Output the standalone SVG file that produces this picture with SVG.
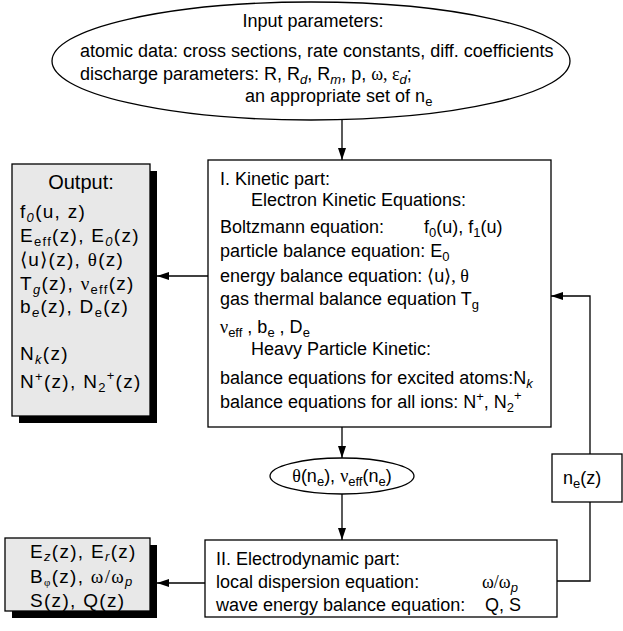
<svg xmlns="http://www.w3.org/2000/svg" width="623" height="631" viewBox="0 0 623 631">
<defs>
<marker id="ah" viewBox="0 0 12 8" refX="12" refY="4" markerWidth="12" markerHeight="8" markerUnits="userSpaceOnUse" orient="auto">
<path d="M0,0 L12,4 L0,8 Z" fill="#000"/>
</marker>
</defs>
<style>
text{font-family:"Liberation Sans",Arial,sans-serif;font-size:18px;fill:#000}
.o{font-size:19px;letter-spacing:1.3px}
.g{font-family:"Liberation Serif","Times New Roman",serif}
.s{font-size:13px}
.i{font-style:italic}
.box{fill:#fff;stroke:#000;stroke-width:1.3}
.out{fill:#e8e8e8;stroke:#000;stroke-width:1.3}
.sh{fill:#000}
.ln{fill:none;stroke:#000;stroke-width:1.3}
</style>
<rect width="623" height="631" fill="#fff"/>
<g id="input">
<ellipse class="box" cx="311" cy="61" rx="259" ry="59"/>
<text x="313" y="27" text-anchor="middle">Input parameters:</text>
<text x="80" y="57">atomic data: cross sections, rate constants, diff. coefficients</text>
<text x="80" y="80">discharge parameters: R, R<tspan class="s i" dy="4">d</tspan><tspan dy="-4">, R</tspan><tspan class="s i" dy="4">m</tspan><tspan dy="-4">, p, </tspan><tspan class="g">ω, ε</tspan><tspan class="s i" dy="4">d</tspan><tspan dy="-4">;</tspan></text>
<text x="245" y="102">an appropriate set of n<tspan class="s" dy="4">e</tspan></text>
</g>
<g id="kinetic">
<rect class="box" x="208" y="160" width="343" height="267"/>
<text x="220" y="185">I. Kinetic part:</text>
<text x="251" y="206">Electron Kinetic Equations:</text>
<text x="220" y="233">Boltzmann equation:</text>
<text x="424" y="233">f<tspan class="s" dy="4">0</tspan><tspan dy="-4">(u), f</tspan><tspan class="s" dy="4">1</tspan><tspan dy="-4">(u)</tspan></text>
<text x="220" y="257">particle balance equation: E<tspan class="s" dy="4">0</tspan></text>
<text x="220" y="282">energy balance equation: <tspan class="g">⟨</tspan>u<tspan class="g">⟩, θ</tspan></text>
<text x="220" y="305">gas thermal balance equation T<tspan class="s" dy="4">g</tspan></text>
<text x="220" y="333"><tspan class="g">ν</tspan><tspan class="s" dy="4">eff</tspan><tspan dy="-4"> , b</tspan><tspan class="s" dy="4">e</tspan><tspan dy="-4"> , D</tspan><tspan class="s" dy="4">e</tspan></text>
<text x="251" y="355">Heavy Particle Kinetic:</text>
<text x="220" y="384">balance equations for excited atoms:N<tspan class="s i" dy="4">k</tspan></text>
<text x="220" y="408">balance equations for all ions:  N<tspan class="s" dy="-7">+</tspan><tspan dy="7">, N</tspan><tspan class="s" dy="4">2</tspan><tspan class="s" dy="-12">+</tspan></text>
</g>
<g id="output1">
<rect class="sh" x="19" y="171" width="138" height="252"/>
<rect class="out" x="12" y="164" width="138" height="252"/>
<text x="81" y="189" text-anchor="middle" style="font-size:20px">Output:</text>
<text class="o" x="20" y="218">f<tspan class="s i" dy="4">0</tspan><tspan dy="-4">(u, z)</tspan></text>
<text class="o" x="20" y="242">E<tspan class="s" dy="4">eff</tspan><tspan dy="-4">(z), E</tspan><tspan class="s i" dy="4">0</tspan><tspan dy="-4">(z)</tspan></text>
<text class="o" x="20" y="266"><tspan class="g">⟨</tspan>u<tspan class="g">⟩</tspan>(z), <tspan class="g">θ</tspan>(z)</text>
<text class="o" x="20" y="290">T<tspan class="s i" dy="4">g</tspan><tspan dy="-4">(z), </tspan><tspan class="g">ν</tspan><tspan class="s" dy="4">eff</tspan><tspan dy="-4">(z)</tspan></text>
<text class="o" x="20" y="313">b<tspan class="s i" dy="4">e</tspan><tspan dy="-4">(z), D</tspan><tspan class="s" dy="4">e</tspan><tspan dy="-4">(z)</tspan></text>
<text class="o" x="20" y="360">N<tspan class="s i" dy="4">k</tspan><tspan dy="-4">(z)</tspan></text>
<text class="o" x="20" y="388">N<tspan class="s" dy="-7">+</tspan><tspan dy="7">(z), N</tspan><tspan class="s" dy="4">2</tspan><tspan class="s" dy="-12">+</tspan><tspan dy="8">(z)</tspan></text>
</g>
<g id="params">
<ellipse class="box" cx="342" cy="476" rx="72" ry="18"/>
<text x="342" y="482" text-anchor="middle"><tspan class="g">θ</tspan>(n<tspan class="s" dy="4">e</tspan><tspan dy="-4">), </tspan><tspan class="g">ν</tspan><tspan class="s" dy="4">eff</tspan><tspan dy="-4">(n</tspan><tspan class="s" dy="4">e</tspan><tspan dy="-4">)</tspan></text>
</g>
<g id="ne">
<rect class="box" x="552" y="454" width="70" height="48"/>
<text x="563" y="484">n<tspan class="s" dy="4">e</tspan><tspan dy="-4">(z)</tspan></text>
</g>
<g id="electro">
<rect class="box" x="205" y="540" width="352" height="77"/>
<text x="216" y="565">II. Electrodynamic part:</text>
<text x="216" y="588">local dispersion equation:</text>
<text x="482" y="588"><tspan class="g">ω/ω</tspan><tspan class="s i" dy="4">p</tspan></text>
<text x="216" y="611">wave energy balance equation:</text>
<text x="485" y="611">Q, S</text>
</g>
<g id="output2">
<rect class="sh" x="12" y="545" width="145" height="73"/>
<rect class="out" x="5" y="538" width="145" height="73"/>
<text class="o" x="30" y="558">E<tspan class="s i" dy="3">z</tspan><tspan dy="-3">(z), E</tspan><tspan class="s i" dy="3">r</tspan><tspan dy="-3">(z)</tspan></text>
<text class="o" x="30" y="583">B<tspan class="g" style="font-size:11px" dy="3">φ</tspan><tspan dy="-3">(z), </tspan><tspan class="g">ω/ω</tspan><tspan class="s i" dy="3">p</tspan></text>
<text class="o" x="30" y="607">S(z), Q(z)</text>
</g>
<g id="connectors">
<line class="ln" x1="342" y1="120" x2="342" y2="160" marker-end="url(#ah)"/>
<line class="ln" x1="208" y1="276" x2="157" y2="276" marker-end="url(#ah)"/>
<line class="ln" x1="342" y1="427" x2="342" y2="458" marker-end="url(#ah)"/>
<line class="ln" x1="342" y1="494" x2="342" y2="540" marker-end="url(#ah)"/>
<polyline class="ln" points="590,454 590,296 551,296" marker-end="url(#ah)"/>
<polyline class="ln" points="590,502 590,581 557,581"/>
<line class="ln" x1="205" y1="583" x2="157" y2="583" marker-end="url(#ah)"/>
</g>
</svg>
